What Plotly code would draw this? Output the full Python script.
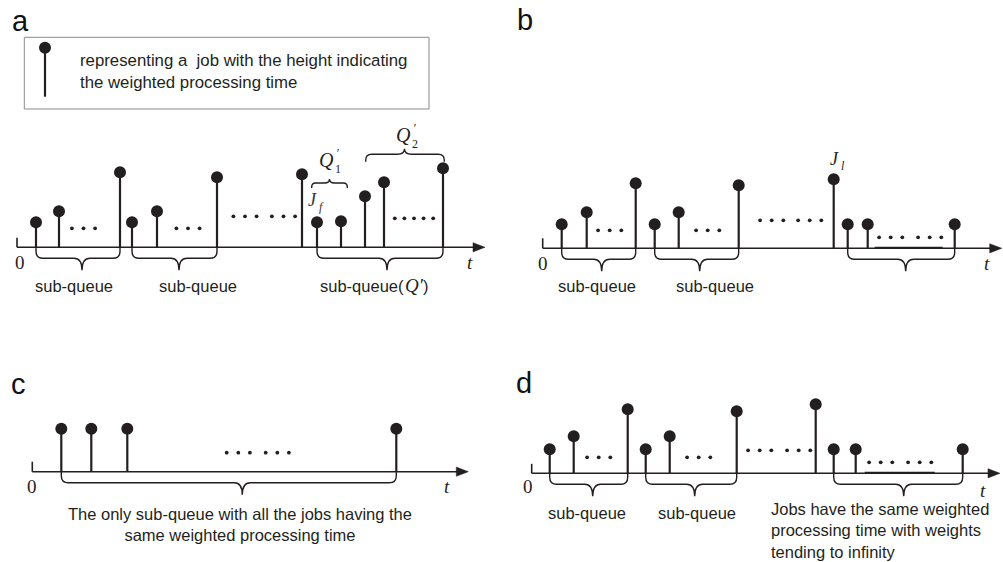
import plotly.graph_objects as go

INK = '#231f20'
SANS = 'Liberation Sans, Arial, sans-serif'
SERIF = 'Liberation Serif, Times New Roman, serif'
W, H = 1003, 562

# ---------------- data (time position, weighted processing time) ----------------
# panel a
a_t = [19, 42, 103, 115, 140, 200, 285, 300, 324, 348, 367, 426]
a_h = [25, 36, 75, 25, 36, 70, 73, 25, 26, 51, 65, 79]
a_brace_first = [0, 3, 7]
a_brace_last = [2, 5, 11]
a_brace_tip = [65, 162, 370]
a_ell_t = [66.5, 171, 228, 266.5, 397]
a_ell_h = [19, 19, 31, 31, 29]
a_ell_n = [3, 3, 3, 3, 5]
a_labels = ['sub-queue', 'sub-queue', 'sub-queue(']

# panel b
b_t = [19, 44, 93, 112, 136, 196, 291, 305, 325, 412]
b_h = [24, 36, 65, 24, 36, 63, 69, 24, 24, 24]
b_brace_first = [0, 3, 7]
b_brace_last = [2, 5, 9]
b_brace_tip = [59, 157, 363]
b_ell_t = [67, 165, 229, 267, 348, 387]
b_ell_h = [18, 18, 28, 28, 11, 11]
b_ell_n = [3, 3, 3, 3, 3, 3]
b_labels = ['sub-queue', 'sub-queue',
            'the last sub-queue with jobs<br>having the same weighted<br>processing time']

# panel c
c_t = [29, 59, 95, 364]
c_h = [43, 43, 43, 43]
c_brace_first = [0]
c_brace_last = [3]
c_brace_tip = [210]
c_ell_t = [206, 245]
c_ell_h = [19, 19]
c_ell_n = [3, 3]
c_labels = ['The only sub-queue with all the jobs having the<br>same weighted processing time']

# panel d
d_t = [18, 42, 96, 114, 138, 205, 284, 302, 324, 431]
d_h = [24, 37, 64, 24, 37, 62, 69, 24, 24, 24]
d_brace_first = [0, 3, 7]
d_brace_last = [2, 5, 9]
d_brace_tip = [61, 163, 372]
d_ell_t = [67, 167, 228, 267, 349, 388]
d_ell_h = [16, 16, 23, 23, 11, 11]
d_ell_n = [3, 3, 3, 3, 3, 3]
d_labels = ['sub-queue', 'sub-queue',
            'Jobs have the same weighted<br>processing time with weights<br>tending to infinity']

# ---------------- layout geometry (pixels) ----------------
panels = {
    'a': dict(box=(0, 0, 500, 290), origin=(17, 247.3), end=468, tick=9.5, ax=1,
              t=a_t, h=a_h, bf=a_brace_first, bl=a_brace_last, tip=a_brace_tip,
              et=a_ell_t, eh=a_ell_h, en=a_ell_n, labels=a_labels,
              lab_pos=[(57, -38.5, 'center'), (180.5, -38.5, 'center'), (389, -38.5, 'right')],
              zero=(3, -15.5), tpos=(453, -15.5), letter=(20, 21), underline=None),
    'b': dict(box=(500, 0, 1003, 290), origin=(542.7, 248.3), end=459, tick=10, ax=2,
              t=b_t, h=b_h, bf=b_brace_first, bl=b_brace_last, tip=b_brace_tip,
              et=b_ell_t, eh=b_ell_h, en=b_ell_n, labels=b_labels,
              lab_pos=[(54.3, -37.5, 'center'), (172.3, -37.5, 'center'), (356.3, -59.5, 'center')],
              zero=(0.5, -15.5), tpos=(444.3, -15.5), letter=(525, 20), underline=(332, 400)),
    'c': dict(box=(0, 290, 500, 562), origin=(32.3, 471.7), end=436, tick=10, ax=3,
              t=c_t, h=c_h, bf=c_brace_first, bl=c_brace_last, tip=c_brace_tip,
              et=c_ell_t, eh=c_ell_h, en=c_ell_n, labels=c_labels,
              lab_pos=[(207.7, -52.5, 'center')],
              zero=(-0.3, -14.3), tpos=(414.4, -14.3), letter=(18, 384), underline=None),
    'd': dict(box=(500, 290, 1003, 562), origin=(531.7, 473.3), end=468.3, tick=9.5, ax=4,
              t=d_t, h=d_h, bf=d_brace_first, bl=d_brace_last, tip=d_brace_tip,
              et=d_ell_t, eh=d_ell_h, en=d_ell_n, labels=d_labels,
              lab_pos=[(55.3, -39.5, 'center'), (165, -39.5, 'center'), (237.6, -57, 'left')],
              zero=(-4, -12.7), tpos=(451.3, -16.7), letter=(524, 383), underline=(333, 403)),
}


def brace_path(t1, t2, tip, base=0.0, d=-1, b=11, dep=23, r=7, rt=8):
    yb = base + d * b
    yt = base + d * dep
    y1 = yb - d * r
    return (f"M {t1},{base} L {t1},{y1} Q {t1},{yb} {t1 + r},{yb} "
            f"L {tip - rt},{yb} Q {tip},{yb} {tip},{yt} "
            f"Q {tip},{yb} {tip + rt},{yb} L {t2 - r},{yb} "
            f"Q {t2},{yb} {t2},{y1} L {t2},{base}")


def txt(xa, ya, x, y, s, family=SERIF, size=19, italic=False, color=INK,
        xanchor='center', yanchor='middle', align='center'):
    f = dict(family=family, size=size, color=color)
    if italic:
        f['style'] = 'italic'
    return dict(xref=xa, yref=ya, x=x, y=y, text=s, showarrow=False, xanchor=xanchor,
                yanchor=yanchor, align=align, font=f)


fig = go.Figure()
shapes, annotations = [], []
layout_axes = {}

for key, p in panels.items():
    x0, y0, x1, y1 = p['box']
    ox, oy = p['origin']
    n = p['ax']
    xa = 'x' if n == 1 else f'x{n}'
    ya = 'y' if n == 1 else f'y{n}'
    xname = 'xaxis' if n == 1 else f'xaxis{n}'
    yname = 'yaxis' if n == 1 else f'yaxis{n}'
    common = dict(visible=False, showgrid=False, zeroline=False, fixedrange=True)
    layout_axes[xname] = dict(domain=[x0 / W, x1 / W], range=[x0 - ox, x1 - ox],
                              anchor=ya, **common)
    layout_axes[yname] = dict(domain=[1 - y1 / H, 1 - y0 / H], range=[oy - y1, oy - y0],
                              anchor=xa, **common)

    # time axis with origin tick and arrow head
    end = p['end']
    shapes.append(dict(type='line', xref=xa, yref=ya, x0=0, y0=0, x1=end - 6, y1=0,
                       line=dict(color=INK, width=1.6)))
    shapes.append(dict(type='line', xref=xa, yref=ya, x0=0, y0=0, x1=0, y1=p['tick'],
                       line=dict(color=INK, width=1.6)))
    shapes.append(dict(type='path', xref=xa, yref=ya,
                       path=f"M {end},0 L {end - 12},4.6 L {end - 12},-4.6 Z",
                       fillcolor=INK, line=dict(color=INK, width=0.5)))
    if p['underline']:
        u0, u1 = p['underline']
        shapes.append(dict(type='line', xref=xa, yref=ya, x0=u0, y0=1, x1=u1, y1=1,
                           line=dict(color=INK, width=1.2)))

    # stems
    sx, sy = [], []
    for t, h in zip(p['t'], p['h']):
        sx += [t, t, None]
        sy += [0, h, None]
    fig.add_trace(go.Scatter(x=sx, y=sy, mode='lines', xaxis=xa, yaxis=ya,
                             line=dict(color=INK, width=2.2), hoverinfo='skip'))
    fig.add_trace(go.Scatter(x=p['t'], y=p['h'], mode='markers', xaxis=xa, yaxis=ya,
                             marker=dict(color=INK, size=12, line=dict(width=0)),
                             hoverinfo='skip'))

    # ellipses
    ex, ey = [], []
    for t, h, k in zip(p['et'], p['eh'], p['en']):
        sp = 11.6 if k == 3 else 9.6
        for i in range(k):
            ex.append(t + (i - (k - 1) / 2) * sp)
            ey.append(h)
    fig.add_trace(go.Scatter(x=ex, y=ey, mode='markers', xaxis=xa, yaxis=ya,
                             marker=dict(color=INK, size=3.8, line=dict(width=0)),
                             hoverinfo='skip'))

    # braces under the axis
    for i0, i1, tip in zip(p['bf'], p['bl'], p['tip']):
        shapes.append(dict(type='path', xref=xa, yref=ya,
                           path=brace_path(p['t'][i0], p['t'][i1], tip),
                           line=dict(color=INK, width=1.4)))

    # labels
    for s, (lx, ly, al) in zip(p['labels'], p['lab_pos']):
        annotations.append(txt(xa, ya, lx, ly, s, family=SANS, size=16.5,
                               xanchor=al, align=al))
    annotations.append(txt(xa, ya, p['zero'][0], p['zero'][1], '0'))
    annotations.append(txt(xa, ya, p['tpos'][0], p['tpos'][1], 't', italic=True))
    annotations.append(dict(xref='paper', yref='paper', x=p['letter'][0] / W,
                            y=1 - p['letter'][1] / H, text=key, showarrow=False,
                            xanchor='center', yanchor='middle',
                            font=dict(family=SANS, size=29, color='#111111')))

# ---- extras in panel a: Q' in last label, legend box, Q'1, Q'2 braces, J_f ----
annotations.append(txt('x', 'y', 385.5, -38.5, 'Q′', size=19, italic=True, xanchor='left'))
annotations.append(txt('x', 'y', 403.5, -38.5, ')', family=SANS, size=16.5, xanchor='left'))

shapes.append(dict(type='rect', xref='x', yref='y', x0=7.3, y0=138.3, x1=412, y1=210,
                   line=dict(color='#8a8a8a', width=1), fillcolor='rgba(0,0,0,0)'))
leg_t = [28]
leg_h = [150.6, 199.6]
fig.add_trace(go.Scatter(x=[leg_t[0], leg_t[0]], y=leg_h, mode='lines', xaxis='x', yaxis='y',
                         line=dict(color=INK, width=2.2), hoverinfo='skip'))
fig.add_trace(go.Scatter(x=leg_t, y=[leg_h[1]], mode='markers', xaxis='x', yaxis='y',
                         marker=dict(color=INK, size=12, line=dict(width=0)), hoverinfo='skip'))
annotations.append(txt('x', 'y', 61, 175.6,
                       'representing a  job with the height indicating<br>the weighted processing time',
                       family=SANS, size=16.8, xanchor='left', align='left'))

shapes.append(dict(type='path', xref='x', yref='y',
                   path=brace_path(294.7, 330.3, 312.5, base=59.3, d=1, b=5, dep=9, r=4, rt=5),
                   line=dict(color=INK, width=1.4)))
shapes.append(dict(type='path', xref='x', yref='y',
                   path=brace_path(348.7, 427.3, 387.5, base=85.6, d=1, b=7.5, dep=13, r=6, rt=7),
                   line=dict(color=INK, width=1.4)))
# Q'_1 (prime stacked over subscript)
annotations.append(txt('x', 'y', 309.5, 87.5, 'Q', size=20, italic=True))
annotations.append(txt('x', 'y', 320.5, 86.5, '′<br>1', size=12))
# Q'_2
annotations.append(txt('x', 'y', 386.5, 112.5, 'Q', size=20, italic=True))
annotations.append(txt('x', 'y', 397.5, 111.5, '′<br>2', size=12))
# J_f
annotations.append(txt('x', 'y', 295, 47, 'J', size=18, italic=True, color='#333333'))
annotations.append(txt('x', 'y', 304.5, 40.5, 'f', size=12, italic=True, color='#333333'))
# J_l in panel b
annotations.append(txt('x2', 'y2', 291.3, 89.5, 'J', size=18, italic=True))
annotations.append(txt('x2', 'y2', 300.5, 82, 'l', size=12, italic=True))

fig.update_layout(width=W, height=H, margin=dict(l=0, r=0, t=0, b=0, pad=0),
                  paper_bgcolor='white', plot_bgcolor='rgba(0,0,0,0)', showlegend=False,
                  shapes=shapes, annotations=annotations, **layout_axes)
fig.write_html('out.html')
